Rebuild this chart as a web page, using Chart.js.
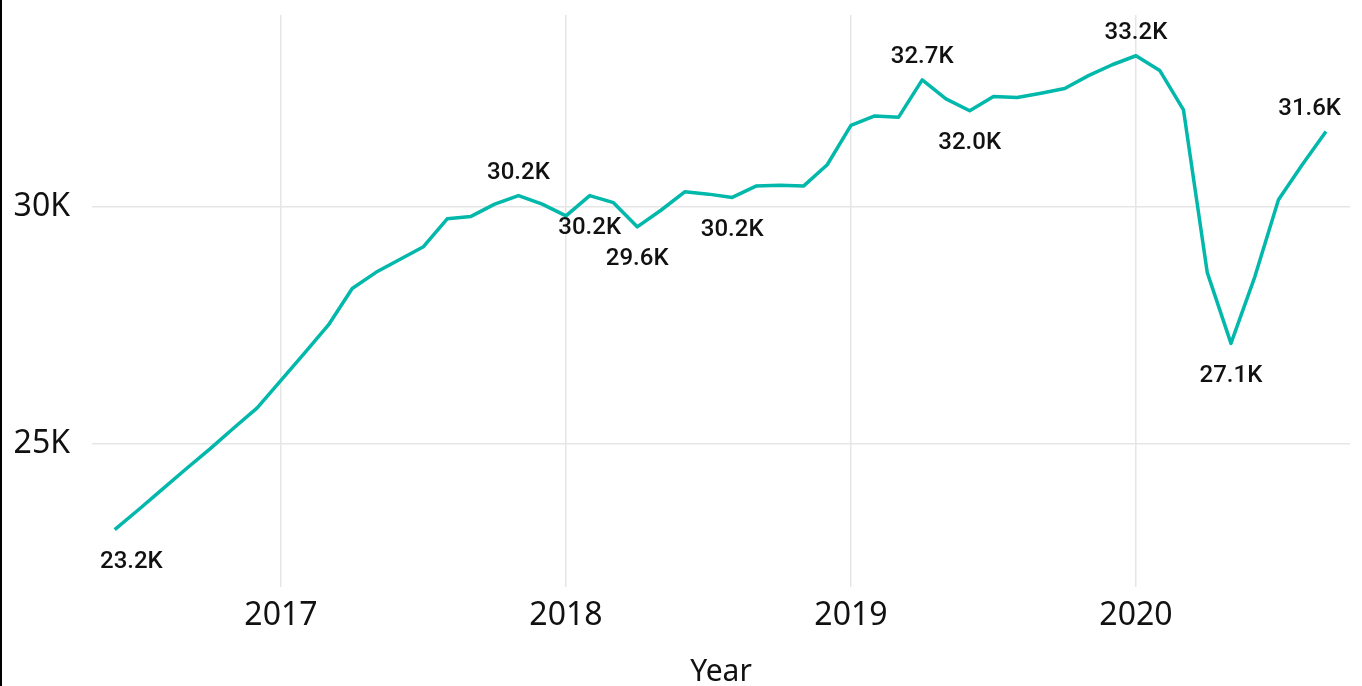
<!DOCTYPE html>
<html lang="en">
<head>
    <meta charset="UTF-8">
    <title>Monthly total by year</title>
    <script src="https://cdn.jsdelivr.net/npm/chart.js"></script>
    <style>
        html, body {
            margin: 0;
            padding: 0;
            background: #fff;
            overflow: hidden;
        }

        .frame {
            position: relative;
            width: 1362px;
            height: 686px;
            overflow: hidden;
        }

        /* dark edge on the left side of the visual */
        .frame::before {
            content: "";
            position: absolute;
            left: 0;
            top: 0;
            width: 2px;
            height: 100%;
            background: #000;
            z-index: 2;
        }

        canvas {
            position: absolute;
            left: 0;
            top: 0;
        }
    </style>
</head>
<body>

    <div class="frame">
        <canvas id="trendChart" width="1362" height="700"></canvas>
    </div>

    <script>
        // Monthly values, June 2016 through September 2020
        const months = [
            '2016-06', '2016-07', '2016-08', '2016-09', '2016-10', '2016-11', '2016-12',
            '2017-01', '2017-02', '2017-03', '2017-04', '2017-05', '2017-06',
            '2017-07', '2017-08', '2017-09', '2017-10', '2017-11', '2017-12',
            '2018-01', '2018-02', '2018-03', '2018-04', '2018-05', '2018-06',
            '2018-07', '2018-08', '2018-09', '2018-10', '2018-11', '2018-12',
            '2019-01', '2019-02', '2019-03', '2019-04', '2019-05', '2019-06',
            '2019-07', '2019-08', '2019-09', '2019-10', '2019-11', '2019-12',
            '2020-01', '2020-02', '2020-03', '2020-04', '2020-05', '2020-06',
            '2020-07', '2020-08', '2020-09'
        ];

        const totals = [
            23190, 23610, 24040, 24470, 24890, 25330, 25760,
            26340, 26920, 27510, 28280, 28620, 28890,
            29160, 29750, 29800, 30060, 30240, 30060,
            29810, 30240, 30090, 29580, 29930, 30320,
            30270, 30200, 30440, 30460, 30440, 30890,
            31720, 31920, 31890, 32680, 32280, 32030,
            32330, 32310, 32400, 32500, 32770, 33000,
            33190, 32880, 32050, 28620, 27120, 28520,
            30150, 30890, 31590
        ];

        // Points that carry a value label, and which side of the line it sits on
        const labelMonths = ['2016-06', '2017-11', '2018-02', '2018-04', '2018-08',
                             '2019-04', '2019-06', '2020-01', '2020-05', '2020-09'];
        const labelSides = ['below', 'above', 'below', 'below', 'below',
                            'above', 'below', 'above', 'below', 'above'];

        const yearTicks = [2017, 2018, 2019, 2020];
        const valueTicks = [25000, 30000];

        const toYear = m => {
            const [y, mo] = m.split('-').map(Number);
            return y + (mo - 1) / 12;
        };

        const formatK = v => (v / 1000).toFixed(1) + 'K';
        const axisFont = '"Segoe UI", "Noto Sans", sans-serif';

        const points = months.map((m, i) => ({ x: toYear(m), y: totals[i] }));

        // Draws the value labels next to selected points, kept inside the plot area
        const pointLabels = {
            id: 'pointLabels',
            afterDatasetsDraw(chart) {
                const { ctx, chartArea } = chart;
                const meta = chart.getDatasetMeta(0);
                ctx.save();
                ctx.font = '500 24px Roboto, "Noto Sans", sans-serif';
                ctx.fillStyle = '#111';
                ctx.textAlign = 'center';
                ctx.textBaseline = 'alphabetic';
                labelMonths.forEach((m, k) => {
                    const i = months.indexOf(m);
                    const el = meta.data[i];
                    const text = formatK(totals[i]);
                    const w = ctx.measureText(text).width;
                    let x = el.x;
                    x = Math.max(x, chartArea.left + 8 + w / 2);
                    x = Math.min(x, chartArea.right - 9 - w / 2);
                    const y = labelSides[k] === 'above' ? el.y - 16.5 : el.y + 38.5;
                    ctx.fillText(text, x, y);
                });
                ctx.restore();
            }
        };

        new Chart(document.getElementById('trendChart').getContext('2d'), {
            type: 'line',
            data: {
                datasets: [{
                    data: points,
                    borderColor: '#01B8AA',
                    borderWidth: 3.5,
                    borderJoinStyle: 'round',
                    pointRadius: 0,
                    tension: 0,
                    fill: false
                }]
            },
            options: {
                responsive: false,
                animation: false,
                layout: {
                    padding: { top: 15, right: 12, bottom: 0, left: 0 }
                },
                plugins: {
                    legend: { display: false },
                    tooltip: { enabled: false }
                },
                scales: {
                    x: {
                        type: 'linear',
                        min: 2016.337,
                        max: 2020.751,
                        afterBuildTicks: s => { s.ticks = yearTicks.map(v => ({ value: v })); },
                        afterFit: s => { s.height = 113; s.paddingLeft = 0; s.paddingRight = 0; },
                        grid: { color: '#e6e6e6', lineWidth: 1.5, drawTicks: false },
                        border: { display: false },
                        ticks: {
                            padding: 10,
                            color: '#111',
                            font: { family: axisFont, size: 32 },
                            callback: v => String(v)
                        },
                        title: {
                            display: true,
                            text: 'Year',
                            color: '#111',
                            font: { family: axisFont, size: 30 },
                            padding: { top: 0, bottom: 10 }
                        }
                    },
                    y: {
                        min: 21980,
                        max: 34050,
                        afterBuildTicks: s => { s.ticks = valueTicks.map(v => ({ value: v })); },
                        afterFit: s => { s.width = 92; s.paddingTop = 0; s.paddingBottom = 0; },
                        grid: { color: '#e6e6e6', lineWidth: 1.5, drawTicks: false },
                        border: { display: false },
                        ticks: {
                            padding: 22,
                            color: '#111',
                            font: { family: axisFont, size: 32 },
                            callback: v => (v / 1000) + 'K'
                        }
                    }
                }
            },
            plugins: [pointLabels]
        });
    </script>

</body>
</html>
